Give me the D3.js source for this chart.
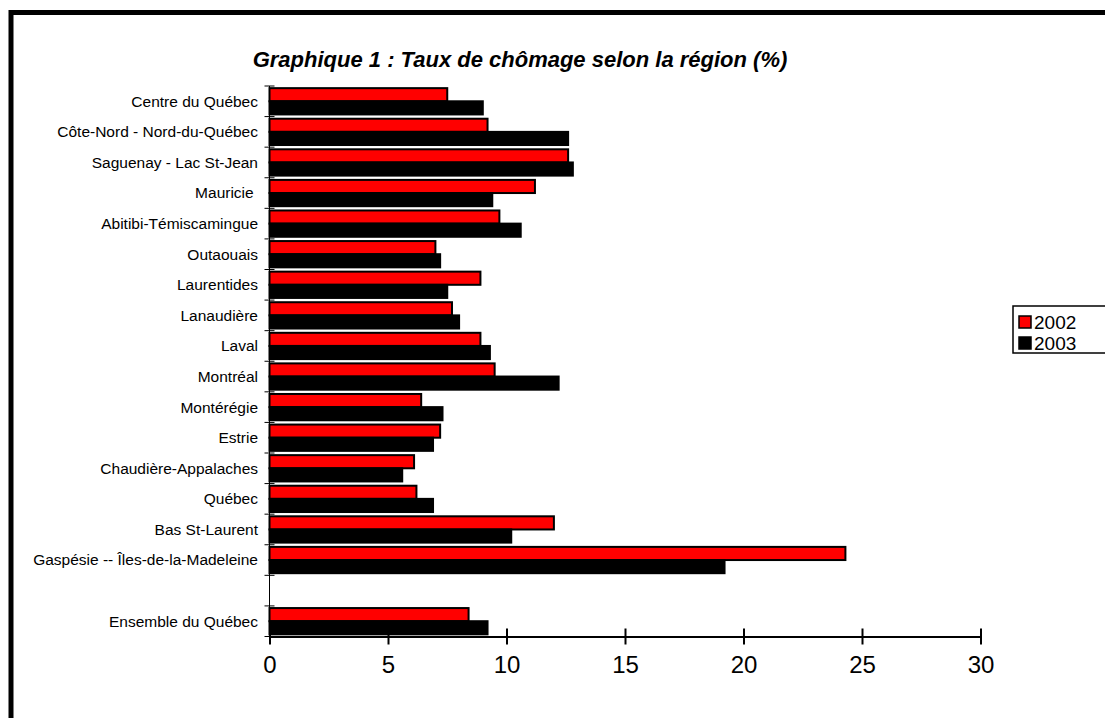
<!DOCTYPE html>
<html>
<head>
<meta charset="utf-8">
<script src="https://cdn.jsdelivr.net/npm/d3@7"></script>
<style>
  body { margin: 0; background: #fff; }
  text { font-family: Arial, "Liberation Sans", sans-serif; }
</style>
</head>
<body>
<svg id="chart"></svg>
<script>
// Chart size
var width = 1105, height = 718;

// Data - "" is the empty spacer row
var regions = ["Centre du Québec", "Côte-Nord - Nord-du-Québec", "Saguenay - Lac St-Jean", "Mauricie ",
  "Abitibi-Témiscamingue", "Outaouais", "Laurentides", "Lanaudière", "Laval", "Montréal",
  "Montérégie", "Estrie", "Chaudière-Appalaches", "Québec", "Bas St-Laurent",
  "Gaspésie -- Îles-de-la-Madeleine", "", "Ensemble du Québec"];
var taux2002 = [7.5, 9.2, 12.6, 11.2, 9.7, 7.0, 8.9, 7.7, 8.9, 9.5, 6.4, 7.2, 6.1, 6.2, 12.0, 24.3, null, 8.4];
var taux2003 = [9.0, 12.6, 12.8, 9.4, 10.6, 7.2, 7.5, 8.0, 9.3, 12.2, 7.3, 6.9, 5.6, 6.9, 10.2, 19.2, null, 9.2];
var years = ["2002", "2003"];
var colors = ["#ff0000", "#000000"];
var xTicks = [0, 5, 10, 15, 20, 25, 30];

var svg = d3.select("#chart")
  .attr("width", width)
  .attr("height", height);

// Outer frame (runs off the right and bottom edges)
svg.append("rect")
  .attr("x", 11).attr("y", 12.5)
  .attr("width", 1200).attr("height", 800)
  .attr("fill", "none")
  .attr("stroke", "#000")
  .attr("stroke-width", 5);

// Title
svg.append("text")
  .attr("x", 520).attr("y", 67)
  .attr("text-anchor", "middle")
  .style("font-size", "22px")
  .style("font-weight", "bold")
  .style("font-style", "italic")
  .text("Graphique 1 : Taux de chômage selon la région (%)");

// Scales
var x = d3.scaleLinear().domain([0, 30]).range([269.5, 980.5]);

var y0 = d3.scaleBand()
  .domain(d3.range(regions.length))
  .range([86, 636.5])
  .paddingInner(0.14)
  .paddingOuter(0.07);

var y1 = d3.scaleBand()
  .domain(years)
  .range([0, y0.bandwidth()]);

var rows = regions.map(function(r, i) {
  return { i: i, name: r, values: [taux2002[i], taux2003[i]] };
});

// Bars
var group = svg.append("g").attr("class", "bars")
  .selectAll("g")
  .data(rows.filter(function(d) { return d.values[0] !== null; }))
  .enter().append("g")
  .attr("transform", function(d) { return "translate(0," + y0(d.i) + ")"; });

group.selectAll("rect")
  .data(function(d) { return d.values.map(function(v, k) { return { year: years[k], value: v, k: k }; }); })
  .enter().append("rect")
  .attr("x", x(0))
  .attr("y", function(d) { return y1(d.year); })
  .attr("width", function(d) { return x(d.value) - x(0); })
  .attr("height", y1.bandwidth())
  .attr("fill", function(d) { return colors[d.k]; })
  .attr("stroke", "#000")
  .attr("stroke-width", 2);

// Y axis: thin line with ticks between categories
var step = y0.step();
var yStart = 86;
var yAxis = svg.append("g").attr("class", "y-axis");
yAxis.append("line")
  .attr("x1", x(0)).attr("x2", x(0))
  .attr("y1", yStart).attr("y2", 636.5)
  .attr("stroke", "#000").attr("stroke-width", 1);
yAxis.selectAll(".ytick")
  .data(d3.range(regions.length + 1))
  .enter().append("line")
  .attr("class", "ytick")
  .attr("x1", x(0) - 5).attr("x2", x(0) + 5)
  .attr("y1", function(d) { return yStart + d * step; })
  .attr("y2", function(d) { return yStart + d * step; })
  .attr("stroke", "#000").attr("stroke-width", 1);

yAxis.selectAll(".ylabel")
  .data(rows)
  .enter().append("text")
  .attr("class", "ylabel")
  .attr("x", 258)
  .attr("y", function(d) { return y0(d.i) + y0.bandwidth() / 2; })
  .attr("dy", "0.35em")
  .attr("text-anchor", "end")
  .style("font-size", "15.5px")
  .style("white-space", "pre")
  .text(function(d) { return d.name; });

// X axis
var xAxis = svg.append("g")
  .attr("transform", "translate(0,636.5)")
  .call(d3.axisBottom(x).tickValues(xTicks).tickSize(0).tickPadding(0).tickFormat(d3.format("d")));
xAxis.select(".domain").attr("stroke", "#000").attr("stroke-width", 2);
xAxis.selectAll(".tick line").remove();
xAxis.selectAll(".tick").append("line")
  .attr("y1", -8).attr("y2", 8)
  .attr("stroke", "#000").attr("stroke-width", 2);
xAxis.selectAll(".tick text")
  .attr("y", 36)
  .attr("dy", 0)
  .attr("fill", "#000")
  .style("font-size", "24px")
  .style("font-family", "Arial, 'Liberation Sans', sans-serif");

// Legend
var legend = svg.append("g").attr("class", "legend");
legend.append("rect")
  .attr("x", 1013).attr("y", 306)
  .attr("width", 120).attr("height", 47)
  .attr("fill", "#fff")
  .attr("stroke", "#000").attr("stroke-width", 1.5);
var item = legend.selectAll(".item")
  .data(years)
  .enter().append("g")
  .attr("class", "item")
  .attr("transform", function(d, i) { return "translate(1019," + (316 + i * 21) + ")"; });
item.append("rect")
  .attr("width", 12).attr("height", 12)
  .attr("fill", function(d, i) { return colors[i]; })
  .attr("stroke", "#000").attr("stroke-width", 1.5);
item.append("text")
  .attr("x", 15).attr("y", 6)
  .attr("dy", "0.35em")
  .style("font-size", "19px")
  .text(function(d) { return d; });
</script>
</body>
</html>
